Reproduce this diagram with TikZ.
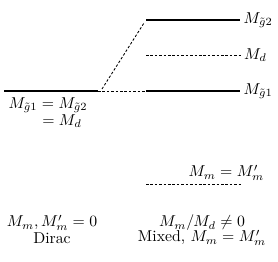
\documentclass[tikz,border=0pt]{standalone}
\usepackage{amsmath}
\begin{document}
\begin{tikzpicture}[x = 0.0223cm, y = -0.0223cm,
		level/.style = {line width = 0.7pt},
		dlevel/.style = {line width = 0.55pt, dash pattern = on 1.6pt off 1.2pt},
		lbl/.style = {inner sep = 1pt}]
		\useasboundingbox (0,0) rectangle (278,261);
		% Dirac side
		\coordinate (dl) at (4,91);
		\coordinate (dr) at (98,91);
		\draw [level] (dl) -- (dr);
		\node [lbl] (deq) at (48,105) {$M_{\tilde{g}1} = M_{\tilde{g}2}$};
		\node [lbl] (deqd) at (62,121) {$= M_d$};
		% mixed side
		\coordinate (g1l) at (146,91);
		\coordinate (g1r) at (240,91);
		\coordinate (g2l) at (146,20);
		\coordinate (g2r) at (240,20);
		\coordinate (mdl) at (146,55);
		\coordinate (mdr) at (242,55);
		\draw [level] (g1l) -- (g1r) node [lbl, right = 1pt] (g1) {$M_{\tilde{g}1}$};
		\draw [level] (g2l) -- (g2r) node [lbl, right = 1pt] (g2) {$M_{\tilde{g}2}$};
		\draw [dlevel] (mdl) -- (mdr) node [lbl, right = 0pt] (md) {$M_d$};
		\draw [dlevel] (dr) -- (g1l);
		\draw [dlevel] (102,89) -- (144,23);
		% mass term
		\coordinate (mml) at (146,184);
		\coordinate (mmr) at (242,184);
		\draw [dlevel] (mml) -- (mmr);
		\node [lbl, anchor = east] (mm) at (266,173) {$M_m = M'_m$};
		% captions
		\node [lbl] (c1) at (52,223) {$M_m, M'_m = 0$};
		\node [lbl] (c2) at (52,238) {Dirac};
		\node [lbl] (c3) at (202,223) {$M_m/M_d \neq 0$};
		\node [lbl] (c4) at (202,238) {Mixed, $M_m = M'_m$};
	\end{tikzpicture}
\end{document}
